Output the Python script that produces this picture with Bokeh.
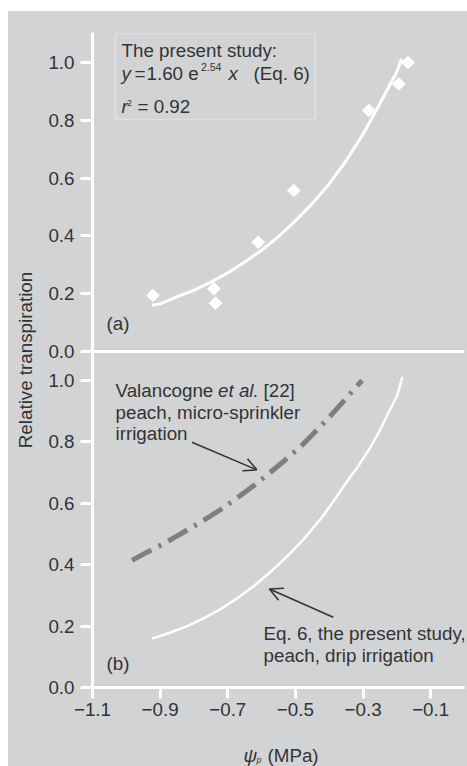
import math
from bokeh.plotting import figure
from bokeh.layouts import column
from bokeh.models import (Range1d, LinearAxis, FixedTicker, CustomJSTickFormatter,
                          Span, Label, Arrow, OpenHead, BoxAnnotation)
from bokeh.core.properties import value
from bokeh.embed import file_html
from bokeh.resources import INLINE

# ---------------- data ----------------
x_ticks = [-1.1, -0.9, -0.7, -0.5, -0.3, -0.1]
y_ticks = [0.0, 0.2, 0.4, 0.6, 0.8, 1.0]

# panel (a): observed points
obs_psi = [-0.921, -0.741, -0.736, -0.610, -0.505, -0.283, -0.194, -0.167]
obs_rt = [0.194, 0.217, 0.167, 0.378, 0.557, 0.834, 0.926, 1.000]

# panel (a): fitted curve (Eq. 6)
fit_a_psi = [-0.924, -0.90, -0.85, -0.80, -0.75, -0.70, -0.65, -0.60, -0.55,
             -0.50, -0.45, -0.40, -0.35, -0.30, -0.25, -0.20, -0.186]
fit_a_rt = [0.160, 0.165, 0.190, 0.212, 0.240, 0.272, 0.310, 0.350, 0.398,
            0.452, 0.512, 0.580, 0.660, 0.752, 0.858, 0.968, 1.013]

# panel (b): Eq. 6 curve
fit_b_psi = [-0.924, -0.88, -0.82, -0.77, -0.72, -0.67, -0.62, -0.57, -0.52,
             -0.47, -0.42, -0.372, -0.352, -0.313, -0.278, -0.253, -0.229, -0.199, -0.184]
fit_b_rt = [0.159, 0.175, 0.200, 0.226, 0.256, 0.292, 0.333, 0.380, 0.432,
            0.490, 0.556, 0.631, 0.664, 0.723, 0.783, 0.832, 0.886, 0.951, 1.011]

# panel (b): Valancogne et al. [22]
val_psi = [-0.983, -0.94, -0.890, -0.84, -0.781, -0.72, -0.663, -0.62, -0.585,
           -0.54, -0.486, -0.43, -0.391, -0.347, -0.303]
val_rt = [0.414, 0.440, 0.468, 0.500, 0.538, 0.580, 0.625, 0.660, 0.691,
          0.732, 0.783, 0.846, 0.891, 0.946, 1.000]

# ---------------- style / layout ----------------
BG = "#d2d3d5"
TXT = "#333333"
FONT = "Liberation Sans"
FS = "18.8px"

W = 459                  # canvas width
ML, MT = 8, 11           # white page margin (left, top)
STRIP = 22               # height of the x-title strip at the bottom
H = 766 - MT - STRIP     # main canvas height
FL, FR, FT, FB = 92, 464, 32, 687   # frame edges in page pixels
SPLIT = 351              # page y where the two panels meet
PX_A = 289               # px per unit, panel (a)
PX_B = 307               # px per unit, panel (b)

X0, X1 = -1.1, 0.0
yb_end = (FB - FT) / PX_B
ya_start = -(FB - SPLIT) / PX_A
ya_end = (SPLIT - FT) / PX_A


def px2x(px):
    return X0 + (px - FL) / (FR - FL) * (X1 - X0)


def px2y(py):
    return (FB - py) / (FB - FT) * yb_end


p = figure(width=W, height=H, x_range=Range1d(X0, X1), y_range=Range1d(0, yb_end),
           output_backend="svg", toolbar_location=None,
           x_axis_type=None, y_axis_type=None,
           min_border_left=FL - ML, min_border_right=ML + W - FR,
           min_border_top=FT - MT, min_border_bottom=MT + H - FB,
           background_fill_color=BG, border_fill_color=BG,
           outline_line_color=None)
p.extra_y_ranges = {"a": Range1d(ya_start, ya_end)}

# x axis
xaxis = LinearAxis(ticker=FixedTicker(ticks=x_ticks),
                   formatter=CustomJSTickFormatter(
                       code="return (tick < -1e-9 ? '\u2212' : '') + Math.abs(tick).toFixed(1);"))
# y axis (both panels on one axis)
y_tick_pos = list(y_ticks) + [(v - ya_start) / (ya_end - ya_start) * yb_end for v in y_ticks]
yaxis = LinearAxis(ticker=FixedTicker(ticks=y_tick_pos),
                   formatter=CustomJSTickFormatter(
                       args=dict(split=(1.0 + y_tick_pos[6]) / 2, a0=ya_start, a1=ya_end, b1=yb_end),
                       code="""
let v = tick;
if (tick > split) { v = a0 + tick / b1 * (a1 - a0); }
return (Math.round(v * 10) / 10).toFixed(1);
"""))
for ax, out, so in ((xaxis, 11, 4), (yaxis, 12, 6)):
    ax.axis_line_color = "white"
    ax.axis_line_width = 3
    ax.major_tick_line_color = "white"
    ax.major_tick_line_width = 3
    ax.major_tick_out = out
    ax.major_tick_in = 0
    ax.minor_tick_line_color = None
    ax.major_label_text_font = FONT
    ax.major_label_text_font_size = FS
    ax.major_label_text_color = TXT
    ax.major_label_standoff = so
yaxis.axis_label = "Relative transpiration"
yaxis.axis_label_text_font = FONT
yaxis.axis_label_text_font_size = FS
yaxis.axis_label_text_font_style = "normal"
yaxis.axis_label_text_color = TXT
yaxis.axis_label_standoff = 9
p.add_layout(xaxis, "below")
p.add_layout(yaxis, "left")

# zero line of panel (a)
p.add_layout(Span(location=0, dimension="width", y_range_name="a",
                  line_color="white", line_width=3))

# data marks
p.line(fit_a_psi, fit_a_rt, y_range_name="a", line_color="white", line_width=3)
p.scatter(obs_psi, obs_rt, y_range_name="a", marker="square", size=9,
          angle=math.pi / 4, fill_color="white", line_color="white")
p.line(fit_b_psi, fit_b_rt, line_color="white", line_width=2.5)
p.line(val_psi, val_rt, line_color="#7f7f7f", line_width=5, line_dash="22 8 3 8")

# equation box
p.add_layout(BoxAnnotation(left=px2x(115), right=px2x(315), top=px2y(33), bottom=px2y(119),
                           fill_color=None, fill_alpha=0, line_color="white", line_width=1.5))


def txt(text, px, py, size=FS, style="normal", align="left", angle=0.0):
    p.add_layout(Label(x=px2x(px), y=px2y(py), text=text, text_font=FONT,
                       text_font_size=size, text_font_style=style, text_color=TXT,
                       text_align=align, text_baseline="middle", angle=angle))


txt("The present study:", 121, 50)
txt("y", 121, 73.3, style="italic")
txt("=", 134, 73.3)
txt("1.60 e", 146, 73.3)
txt("2.54", 200.5, 66.7, size="10.5px")
txt("x", 228, 73.3, style="italic")
txt("(Eq. 6)", 253, 73.3)
txt("r", 121, 106, style="italic")
txt("2", 126.5, 102, size="9px")
txt("= 0.92", 137, 106)
txt("(a)", 106, 323)
txt("(b)", 106, 663)

txt("Valancogne ", 115, 390)
txt("et al.", 217.5, 390, style="italic")
txt("[22]", 263, 390)
txt("peach, micro-sprinkler", 115, 412)
txt("irrigation", 115, 433)
txt("Eq. 6, the present study,", 263, 633)
txt("peach, drip irrigation", 263, 655)

# arrows
p.add_layout(Arrow(x_start=-0.806, y_start=0.799, x_end=-0.614, y_end=0.709,
                   line_color=TXT, line_width=1.5,
                   end=OpenHead(size=13, line_color=TXT, line_width=1.5)))
p.add_layout(Arrow(x_start=-0.388, y_start=0.229, x_end=-0.577, y_end=0.321,
                   line_color=TXT, line_width=1.5,
                   end=OpenHead(size=13, line_color=TXT, line_width=1.5)))

# ---- bottom strip carrying the x-axis title (italic psi with subscript p) ----
# its frame is aligned with the main frame by the column layout, so it shares x_range;
# it is transparent and shows the column's gray background
s = figure(width=W, height=STRIP, x_range=p.x_range, y_range=Range1d(0, STRIP),
           output_backend="svg", toolbar_location=None,
           x_axis_type=None, y_axis_type=None,
           min_border_left=0, min_border_right=0, min_border_top=0, min_border_bottom=0,
           background_fill_color=None, border_fill_color=None,
           outline_line_color=None)
ybot = 766   # page y of the strip bottom
s.text(x=[px2x(243)], y=[ybot - 755], text=["\u03c8"], text_font=value(FONT),
       text_font_size=FS, text_font_style="italic", text_color=TXT, text_baseline="middle")
s.text(x=[px2x(256)], y=[ybot - 759], text=["p"], text_font=value(FONT),
       text_font_size="9px", text_font_style="italic", text_color=TXT, text_baseline="middle")
s.text(x=[px2x(267)], y=[ybot - 755], text=["(MPa)"], text_font=value(FONT),
       text_font_size=FS, text_color=TXT, text_baseline="middle")

layout = column(p, s, spacing=0, margin=(MT, 0, 0, ML),
                styles={"background-color": BG})
open("out.html", "w").write(file_html(layout, INLINE))
